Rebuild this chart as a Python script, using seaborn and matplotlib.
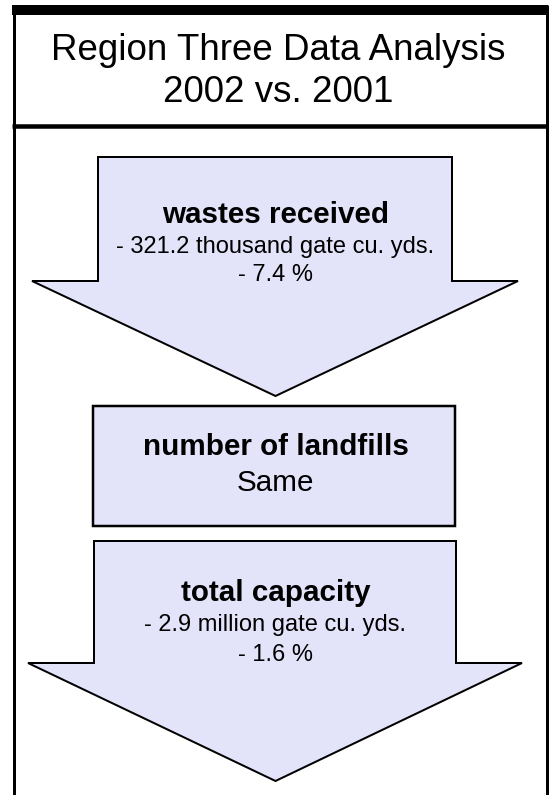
import matplotlib
matplotlib.use("Agg")
import matplotlib.pyplot as plt
from matplotlib.patches import Polygon, Rectangle
import seaborn as sns

# ---- content ----
title_lines = ["Region Three Data Analysis", "2002 vs. 2001"]
shape_kinds = ["arrow", "box", "arrow"]
headers = ["wastes received", "number of landfills", "total capacity"]
details = [
    ["- 321.2 thousand gate cu. yds.", "- 7.4 %"],
    ["Same"],
    ["- 2.9 million gate cu. yds.", "- 1.6 %"],
]

sns.set_theme(style="white")
plt.rcParams["font.family"] = ["Liberation Sans", "DejaVu Sans"]

W, H = 553, 795
DPI = 100
fig = plt.figure(figsize=(W / DPI, H / DPI), dpi=DPI)
ax = fig.add_axes([0, 0, 1, 1])
ax.set_xlim(0, W)
ax.set_ylim(H, 0)
ax.axis("off")

px = 72.0 / DPI  # points per pixel
FILL = "#E3E3F9"
EDGE = "black"

# ---- outer frame ----
ax.add_patch(Rectangle((12, 5), 536, 10, facecolor="black", edgecolor="none"))
ax.plot([13.5, 13.5], [5, H], color="black", lw=3 * px, solid_capstyle="butt")
ax.plot([546.5, 546.5], [5, H], color="black", lw=3 * px, solid_capstyle="butt")
ax.plot([12, 548], [125.5, 125.5], color="black", lw=4.5 * px, solid_capstyle="butt")

# ---- title ----
title_baselines = [60, 102]
for t, yb in zip(title_lines, title_baselines):
    ax.text(278, yb, t, ha="center", va="baseline", fontsize=26.5, color="black")

# ---- shapes ----
geoms = [
    dict(sx0=98, sx1=452, top=157, hx0=32, hx1=518, base=281, tip=396),
    dict(x0=93, x1=455, top=406, bottom=526),
    dict(sx0=94, sx1=456, top=541, hx0=28, hx1=522, base=663, tip=781),
]
text_base = [
    [223, 253, 281],
    [455, 491],
    [601, 631, 661],
]
cx = 275.5
for kind, g, head, det, tb in zip(shape_kinds, geoms, headers, details, text_base):
    if kind == "arrow":
        pts = [
            (g["sx0"], g["top"]), (g["sx1"], g["top"]), (g["sx1"], g["base"]),
            (g["hx1"], g["base"]), (cx, g["tip"]), (g["hx0"], g["base"]),
            (g["sx0"], g["base"]),
        ]
        ax.add_patch(Polygon(pts, closed=True, facecolor=FILL, edgecolor=EDGE,
                             lw=2 * px, joinstyle="miter"))
        det_size = 17
    else:
        ax.add_patch(Rectangle((g["x0"], g["top"]), g["x1"] - g["x0"],
                               g["bottom"] - g["top"], facecolor=FILL,
                               edgecolor=EDGE, lw=2.5 * px))
        det_size = 21.3
    ax.text(cx, tb[0], head, ha="center", va="baseline", fontsize=21.3,
            fontweight="bold", color="black")
    for line, yb in zip(det, tb[1:]):
        ax.text(cx, yb, line, ha="center", va="baseline", fontsize=det_size,
                color="black")

fig.savefig("out.png", dpi=DPI, facecolor="white")
